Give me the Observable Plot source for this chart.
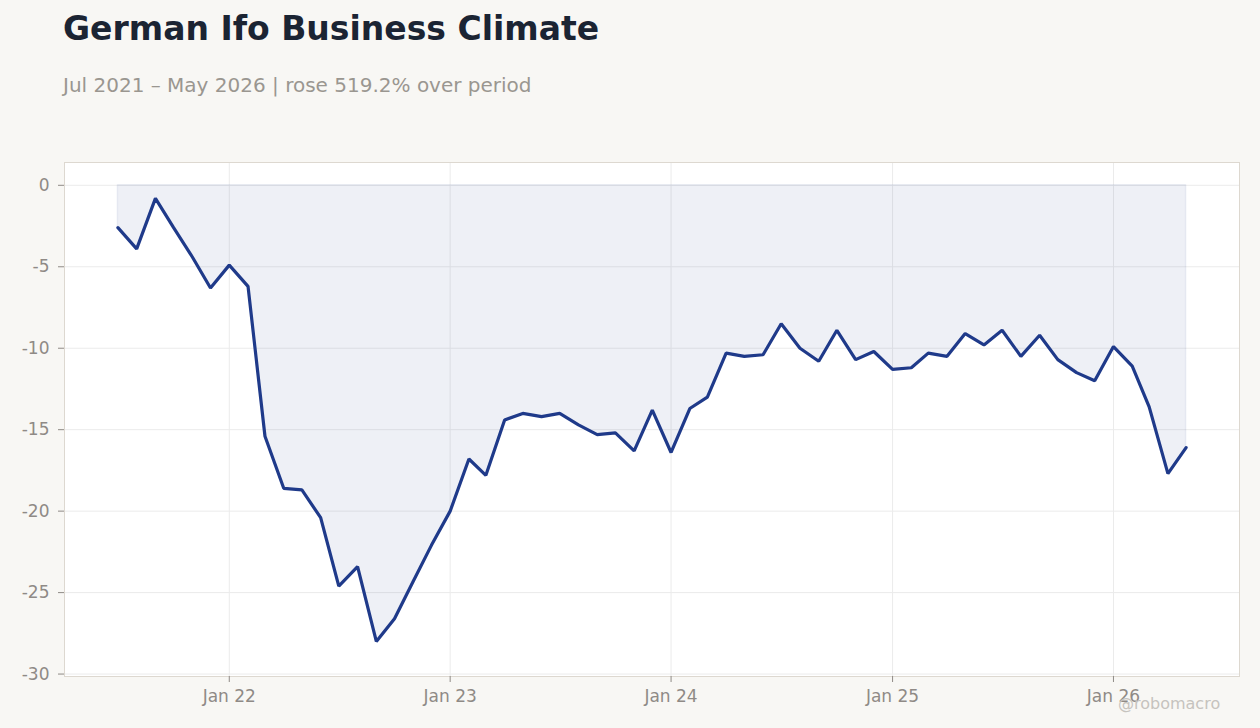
<!DOCTYPE html>
<html>
<head>
<meta charset="utf-8">
<script src="https://cdn.jsdelivr.net/npm/d3@7"></script>
<script src="https://cdn.jsdelivr.net/npm/@observablehq/plot@0.6"></script>
<style>
  html, body { margin: 0; padding: 0; }
  body { background: #f8f7f4; width: 1260px; height: 728px; overflow: hidden; position: relative; font-family: "DejaVu Sans", sans-serif; }
  #title { position: absolute; left: 63px; top: 12px; font-size: 33px; line-height: 33px; font-weight: bold; color: #1b2433; white-space: nowrap; }
  #subtitle { position: absolute; left: 63px; top: 75px; font-size: 20px; line-height: 20px; color: #9a9690; white-space: nowrap; }
  #chart { position: absolute; left: 0; top: 120px; }
  #credit { position: absolute; left: 1118px; top: 696px; font-size: 16px; line-height: 16px; color: #c6c3be; white-space: nowrap; }
</style>
</head>
<body>
<div id="title">German Ifo Business Climate</div>
<div id="subtitle">Jul 2021 – May 2026 | rose 519.2% over period</div>
<div id="chart"></div>
<div id="credit">@robomacro</div>
<script>
const months = [
  "2021-07","2021-08","2021-09","2021-10","2021-11","2021-12",
  "2022-01","2022-02","2022-03","2022-04","2022-05","2022-06","2022-07","2022-08","2022-09","2022-10","2022-11","2022-12",
  "2023-01","2023-02","2023-03","2023-04","2023-05","2023-06","2023-07","2023-08","2023-09","2023-10","2023-11","2023-12",
  "2024-01","2024-02","2024-03","2024-04","2024-05","2024-06","2024-07","2024-08","2024-09","2024-10","2024-11","2024-12",
  "2025-01","2025-02","2025-03","2025-04","2025-05","2025-06","2025-07","2025-08","2025-09","2025-10","2025-11","2025-12",
  "2026-01","2026-02","2026-03","2026-04","2026-05"
];
const values = [
  -2.6, -3.9, -0.8, -2.6, -4.4, -6.3,
  -4.9, -6.2, -15.4, -18.6, -18.7, -20.4, -24.6, -23.4, -28.0, -26.6, -24.3, -22.1,
  -20.0, -16.8, -17.8, -14.4, -14.0, -14.2, -14.0, -14.7, -15.3, -15.2, -16.3, -13.8,
  -16.4, -13.7, -13.0, -10.3, -10.5, -10.4, -8.5, -10.0, -10.8, -8.9, -10.7, -10.2,
  -11.3, -11.2, -10.3, -10.5, -9.1, -9.8, -8.9, -10.5, -9.2, -10.7, -11.5, -12.0,
  -9.9, -11.1, -13.6, -17.7, -16.1
];
const xTickMonths = ["2022-01","2023-01","2024-01","2025-01","2026-01"];
const yTicks = [0, -5, -10, -15, -20, -25, -30];

const parse = d3.utcParse("%Y-%m");
const data = months.map((m, i) => ({date: parse(m), value: values[i]}));
const xTicks = xTickMonths.map(parse);

const [d0, d1] = d3.extent(data, d => d.date);
const pad = (d1 - d0) * 0.05;
const xDomain = [new Date(+d0 - pad), new Date(+d1 + pad)];

const lineColor = "#1f3a8a";

const plot = Plot.plot({
  width: 1260,
  height: 608,
  marginTop: 42,
  marginBottom: 52,
  marginLeft: 64,
  marginRight: 21,
  style: {
    background: "transparent",
    color: "#8f8a86",
    fontFamily: "DejaVu Sans, sans-serif",
    fontSize: "17px"
  },
  x: { type: "utc", domain: xDomain },
  y: { domain: [-30.15, 1.4] },
  marks: [
    Plot.frame({fill: "white", stroke: null}),
    Plot.gridY(yTicks, {stroke: "#ebebeb", strokeOpacity: 1}),
    Plot.gridX(xTicks, {stroke: "#ebebeb", strokeOpacity: 1}),
    Plot.areaY(data, {x: "date", y: "value", fill: lineColor, fillOpacity: 0.075, stroke: lineColor, strokeOpacity: 0.07, strokeWidth: 1.5}),
    Plot.lineY(data, {x: "date", y: "value", stroke: lineColor, strokeWidth: 3.2, strokeLinejoin: "miter"}),
    Plot.frame({stroke: "#ddd8d0", strokeWidth: 1}),
    Plot.axisY(yTicks, {tickSize: 6, tickPadding: 9, fontSize: 17, label: null, tickFormat: d => String(d).replace("−", "-")}),
    Plot.axisX(xTicks, {tickSize: 6, tickPadding: 7, fontSize: 17, label: null, tickFormat: d3.utcFormat("%b %y")})
  ]
});
document.getElementById("chart").appendChild(plot);
</script>
</body>
</html>
